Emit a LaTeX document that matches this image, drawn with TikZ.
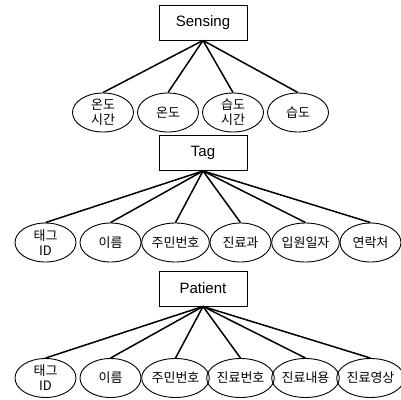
\documentclass[tikz,border=0pt]{standalone}
\usepackage{fontspec}
\setmainfont{Liberation Sans}
\newfontfamily\kr{Noto Sans CJK KR}
\usetikzlibrary{shapes.geometric, positioning}

\begin{document}
\begin{tikzpicture}[x=1pt,y=-1pt,-,node distance=65pt,
                    table node/.style={rectangle,draw,line width=0.9pt,minimum width=88pt,minimum height=35pt,font=\fontsize{15}{18}\selectfont},
                    attr node/.style={ellipse,draw,line width=0.9pt,minimum width=61pt,minimum height=39pt,inner sep=0pt,align=center,font=\kr\fontsize{13}{15}\selectfont},
                    link/.style={line width=1.5pt}]

  \useasboundingbox (0,0) rectangle (401,399);

  % Sensing
  \node[table node] (sensing) at (203,22.5) {Sensing};
  \node[attr node] (s1) at (103,112.5) {온도\\시간};
  \node[attr node] (s2) [right of=s1] {온도};
  \node[attr node] (s3) [right of=s2] {습도\\시간};
  \node[attr node] (s4) [right of=s3] {습도};

  % Tag
  \node[table node] (tag) at (203,153) {Tag};
  \node[attr node] (t1) at (45.5,242.5) {태그\\ID};
  \node[attr node] (t2) [right of=t1] {이름};
  \node[attr node] (t3) [right of=t2] {주민번호};
  \node[attr node] (t4) [right of=t3] {진료과};
  \node[attr node] (t5) [right of=t4] {입원일자};
  \node[attr node] (t6) [right of=t5] {연락처};

  % Patient
  \node[table node] (patient) at (203,288.5) {Patient};
  \node[attr node] (p1) at (45.5,378) {태그\\ID};
  \node[attr node] (p2) [right of=p1] {이름};
  \node[attr node] (p3) [right of=p2] {주민번호};
  \node[attr node] (p4) [right of=p3] {진료번호};
  \node[attr node] (p5) [right of=p4] {진료내용};
  \node[attr node] (p6) [right of=p5] {진료영상};

  \path[link]
    (sensing.south) edge (s1.north)
    (sensing.south) edge (s2.north)
    (sensing.south) edge (s3.north)
    (sensing.south) edge (s4.north)
    (tag.south) edge (t1.north)
    (tag.south) edge (t2.north)
    (tag.south) edge (t3.north)
    (tag.south) edge (t4.north)
    (tag.south) edge (t5.north)
    (tag.south) edge (t6.north)
    (patient.south) edge (p1.north)
    (patient.south) edge (p2.north)
    (patient.south) edge (p3.north)
    (patient.south) edge (p4.north)
    (patient.south) edge (p5.north)
    (patient.south) edge (p6.north)
    ;
\end{tikzpicture}
\end{document}
